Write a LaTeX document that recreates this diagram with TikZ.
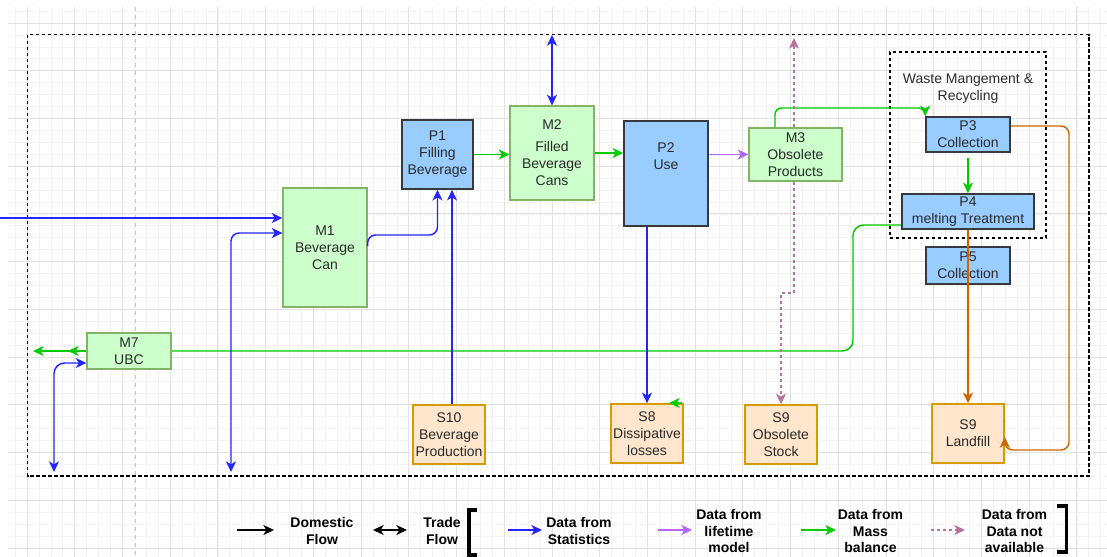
\documentclass[tikz,border=0pt]{standalone}
\usepackage{fontspec}
\setmainfont{Liberation Sans}
\usepackage{xcolor}
\usepackage{tikz}
\usetikzlibrary{arrows.meta,backgrounds}

\definecolor{mgreen}{HTML}{CCFFCC}
\definecolor{mgreenline}{HTML}{82B366}
\definecolor{pblue}{HTML}{99CCFF}
\definecolor{pline}{HTML}{36393D}
\definecolor{sorange}{HTML}{FFE6CC}
\definecolor{sline}{HTML}{D79B00}
\definecolor{fblue}{HTML}{2424FF}
\definecolor{fgreen}{HTML}{00CC00}
\definecolor{fpurple}{HTML}{B266FF}
\definecolor{forange}{HTML}{CC6600}
\definecolor{fpink}{HTML}{B5739D}
\definecolor{txt}{HTML}{2A2A2A}
\definecolor{gridminor}{HTML}{F2F2F2}
\definecolor{gridmajor}{HTML}{E2E2E2}

\begin{document}
\begin{tikzpicture}[x=0.75pt,y=-0.75pt,
		>={Stealth[length=8pt,width=7.5pt,inset=2.3pt]},
		every node/.style={font=\fontsize{10.5}{12.75}\selectfont,text=txt,align=center,inner sep=0pt},
		mbox/.style={rectangle,draw=mgreenline,fill=mgreen,line width=0.9pt},
		pbox/.style={rectangle,draw=pline,fill=pblue,line width=1.2pt},
		sbox/.style={rectangle,draw=sline,fill=sorange,line width=1.2pt},
		area/.style={draw=black,line width=1.1pt,dash pattern=on 2.5pt off 2pt},
		flow/.style={line width=1.1pt},
		statflow/.style={flow,draw=fblue},
		lifeflow/.style={flow,draw=fpurple},
		massflow/.style={flow,draw=fgreen},
		naflow/.style={flow,draw=fpink,dash pattern=on 2.5pt off 2pt},
		wasteflow/.style={flow,draw=forange},
		dom/.style={flow,draw=black},
		legend/.style={font=\fontsize{10.5}{12.4}\selectfont\bfseries,text=black},
		bracket/.style={draw=black,line width=2.6pt},
		]
		\useasboundingbox (0,0) rectangle (1107,557);

		% canvas
		\begin{scope}[on background layer]
			\fill[white] (0,0) rectangle (1107,557);
			\begin{scope}
				\clip (8,7) rectangle (1107,557);
				\foreach \i in {-2,...,92}
					\draw[gridminor,line width=0.5pt] ({27+11.93*\i},7) -- ({27+11.93*\i},557);
				\foreach \j in {-2,...,46}
					\draw[gridminor,line width=0.5pt] (8,{23+11.93*\j}) -- (1107,{23+11.93*\j});
				\foreach \i in {-1,...,23}
					\draw[gridmajor,line width=0.6pt] ({27+47.72*\i},7) -- ({27+47.72*\i},557);
				\foreach \j in {-1,...,12}
					\draw[gridmajor,line width=0.6pt] (8,{23+47.72*\j}) -- (1107,{23+47.72*\j});
			\end{scope}
			\draw[gray!45,line width=1pt,dash pattern=on 3pt off 3pt] (135.6,7) -- (135.6,557);
		\end{scope}

		% system boundary
		\draw[area] (27.5,34.7) rectangle (1089,476);
		\node[area,rectangle,fill=none,minimum width=117pt,minimum height=139.5pt,
			label={[anchor=north,yshift=-16.5pt]north:{Waste Mangement \&\\Recycling}}] (waste) at (968,145) {};

		% processes and markets
		\node[mbox,minimum width=63pt,minimum height=89.25pt] (M1) at (325,247.5) {M1\\Beverage\\Can};
		\node[pbox,minimum width=53.25pt,minimum height=51.75pt] (P1) at (437.5,154.5) {P1\\Filling\\Beverage};
		\node[mbox,minimum width=63pt,minimum height=70.5pt] (M2) at (552,153) {M2\\[3.75pt]Filled\\Beverage\\Cans};
		\node[pbox,minimum width=63pt,minimum height=78.75pt,
			label={[anchor=north,yshift=-16.5pt]north:{P2\\Use}}] (P2) at (666,173.5) {};
		\node[mbox,minimum width=69.75pt,minimum height=39.75pt] (M3) at (795.5,154.5) {M3\\Obsolete\\Products};
		\node[pbox,minimum width=63pt,minimum height=26.25pt] (P3) at (968,134.5) {P3\\Collection};
		\node[pbox,minimum width=99pt,minimum height=26.25pt] (P4) at (968,211.5) {P4\\melting Treatment};
		\node[pbox,minimum width=63pt,minimum height=27.75pt] (P5) at (968,265.5) {P5\\Collection};
		\node[mbox,minimum width=63pt,minimum height=27pt] (M7) at (129,351) {M7\\UBC};

		% stocks
		\node[sbox,minimum width=54pt,minimum height=44.25pt] (S10) at (449,434.5) {S10\\Beverage\\Production};
		\node[sbox,minimum width=54pt,minimum height=44.25pt] (S8) at (647,433.5) {S8\\Dissipative\\losses};
		\node[sbox,minimum width=54pt,minimum height=44.25pt] (S9o) at (781,434.5) {S9\\Obsolete\\Stock};
		\node[sbox,minimum width=54pt,minimum height=44.25pt] (S9l) at (968,433.5) {S9\\Landfill};

		% free ends
		\coordinate (in1) at (0,218);
		\coordinate (b1) at (231,472);
		\coordinate (b2) at (54,472);
		\coordinate (t1) at (552,35);
		\coordinate (t2) at (794,38);
		\coordinate (o1) at (68,351);
		\coordinate (o2) at (33,351);
		\coordinate (g1) at (682,403);
		\coordinate (g2) at (669,403);

		% flows
		\draw[statflow,->] (in1) -- (in1 -| M1.west);
		\draw[statflow,<->,rounded corners=6pt] (b1) |- (M1.west |- 0,233);
		\draw[statflow,->,rounded corners=6pt] (M1.east |- 0,246) -- (M1.east |- 0,235) -| (P1.south);
		\draw[statflow,->,line width=0.8pt] (S10.north -| 452,0) -- (P1.south -| 452,0);
		\draw[statflow,<->] (M2.north) -- (t1);
		\draw[statflow,->] (P2.south -| S8.north) -- (S8.north);
		\draw[statflow,<->,rounded corners=8pt] (b2) |- (M7.west |- 0,363);
		\draw[massflow,->] (P1.east) -- (P1.east -| M2.west);
		\draw[massflow,->] (M2.east) -- (M2.east -| P2.west);
		\draw[lifeflow,->] (M3.west -| P2.east) -- (M3.west);
		\draw[massflow,->,rounded corners=5pt] (M3.north -| 775,0) -- (775,108) -| (P3.north west);
		\draw[massflow,->] (P3.south |- 0,158) -- (P4.north);
		\begin{scope}[on background layer]
			\draw[massflow,->,rounded corners=8pt] (P4.west |- 0,225) -| (853,351) -- (o1);
		\end{scope}
		\draw[massflow,->] (M7.west) -- (o2);
		\draw[massflow,->] (g1) -- (g2);
		\draw[naflow,->] (M3.north -| 794,0) -- (t2);
		\draw[naflow,->] (M3.south -| 794,0) -- (794,293) -| (S9o.north);
		\draw[wasteflow,->] (P4.south) -- (S9l.north);
		\draw[wasteflow,->,rounded corners=6pt] (P3.east |- 0,126) -| (1069,450) -| (S9l.east |- 0,437);

		% legend
		\draw[dom,->] (237,530) -- (274,530);
		\node[legend] (ldom) at (322,531) {Domestic\\Flow};
		\draw[dom,<->] (373,530) -- (407,530);
		\node[legend] (ltrade) at (442,531) {Trade\\Flow};
		\draw[bracket] (477,510) -- (469,510) -- (469,555) -- (477,555);
		\draw[statflow,->] (508,530) -- (542,530);
		\node[legend] (lstat) at (579,531) {Data from\\Statistics};
		\draw[lifeflow,->] (658,530) -- (692,530);
		\node[legend] (llife) at (729,531) {Data from\\lifetime\\model};
		\draw[massflow,->] (801,530) -- (836,530);
		\node[legend] (lmass) at (870.5,531) {Data from\\Mass\\balance};
		\draw[naflow,->] (931,530) -- (965,530);
		\node[legend] (lna) at (1014.5,531) {Data from\\Data not\\available};
		\draw[bracket] (1057,506) -- (1066.5,506) -- (1066.5,552) -- (1057,552);
	\end{tikzpicture}
\end{document}
